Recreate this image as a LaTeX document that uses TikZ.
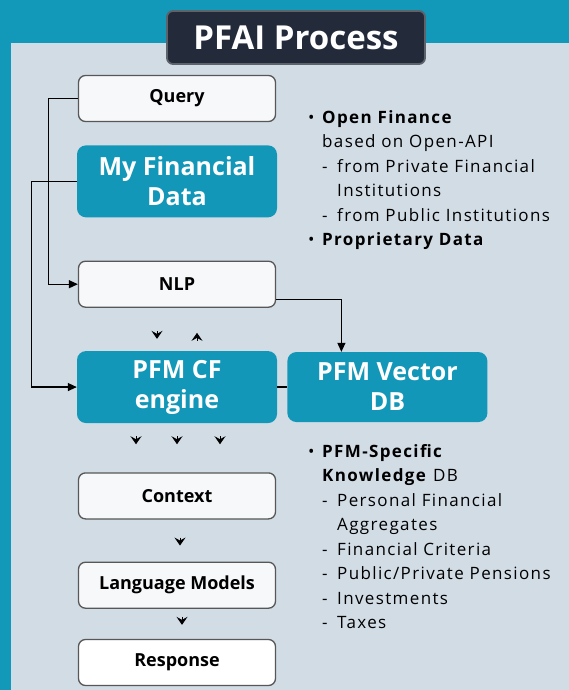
\documentclass[tikz,border=0pt]{standalone}
\usepackage{fontspec}
\setmainfont{Open Sans}
\newfontfamily\widefont{Open Sans}[LetterSpace=8]
\usetikzlibrary{arrows.meta,positioning}

\definecolor{frameteal}{HTML}{1298B9}
\definecolor{panelgray}{HTML}{D2DCE5}
\definecolor{pfmteal}{HTML}{1297B8}
\definecolor{titlenavy}{HTML}{232A3A}
\definecolor{titleedge}{HTML}{5E636B}
\definecolor{boxedge}{HTML}{575757}
\definecolor{boxfill}{HTML}{F7F8FA}

% helpers for the side notes
\newcommand{\bul}[1]{\makebox[14pt][l]{\textbullet}\textbf{#1}}
\newcommand{\plain}[1]{\hspace*{14pt}#1}
\newcommand{\subitm}[1]{\hspace*{14pt}\makebox[15pt][l]{-}#1}
\newcommand{\cont}[1]{\hspace*{29pt}#1}

\begin{document}
\begin{tikzpicture}[x=1pt, y=-1pt,
  node distance=43pt and 10pt,
  stepbox/.style={rectangle, draw=boxedge, line width=1.3pt, rounded corners=7pt,
                  fill=boxfill, minimum width=197pt, minimum height=46pt,
                  font=\fontsize{18}{22}\selectfont\bfseries},
  databox/.style={rectangle, rounded corners=9pt, fill=pfmteal, text=white,
                  minimum width=200pt, minimum height=72pt, align=center,
                  font=\fontsize{25}{30}\selectfont\bfseries},
  titlebox/.style={rectangle, rounded corners=6pt, fill=titlenavy, draw=titleedge,
                   line width=1.8pt, text=white, minimum width=258pt,
                   minimum height=53pt, font=\fontsize{33}{38}\selectfont\bfseries},
  notes/.style={align=left, inner sep=0pt, anchor=north west,
                font=\widefont\fontsize{17}{24.5}\selectfont},
  flow/.style={-{Triangle[length=9pt,width=8pt]}, line width=1.2pt},
  hop/.style 2 args={-{Stealth[length=8pt,width=11pt,inset=3pt]}, line width=1pt,
                     shorten <=#1, shorten >=#2},
]
\useasboundingbox (0,0) rectangle (569,690);

% frame and panel
\fill[frameteal] (0,0) rectangle (569,690);
\fill[panelgray] (11,43) rectangle (569,690);
\node[titlebox] (title) at (296,37.5) {PFAI Process};

% left column
\node[stepbox] (query) at (177,98.5) {Query};
\node[databox, below=23pt of query] (mydata) {My Financial\\Data};
\node[stepbox, below=of mydata] (nlp) {NLP};
\node[databox, below=of nlp] (cfeng) {PFM CF\\engine};
\node[databox, right=of cfeng, minimum height=70pt] (vecdb) {PFM Vector\\DB};
\node[stepbox, below=49pt of cfeng] (context) {Context};
\node[stepbox, below=42pt of context] (llm) {Language Models};
\node[stepbox, below=30pt of llm, fill=white] (resp) {Response};

% side notes
\node[notes] (openfin) at (308,110) {%
  \bul{Open Finance}\\
  \plain{based on Open-API}\\
  \subitm{from Private Financial}\\
  \cont{Institutions}\\
  \subitm{from Public Institutions}\\
  \bul{Proprietary Data}};
\node[notes] (knowdb) at (308,444) {%
  \bul{PFM-Specific}\\
  \hspace*{14pt}\textbf{Knowledge} DB\\
  \subitm{Personal Financial}\\
  \cont{Aggregates}\\
  \subitm{Financial Criteria}\\
  \subitm{Public/Private Pensions}\\
  \subitm{Investments}\\
  \subitm{Taxes}};

% connectors
\draw[flow] (query.west) -- ++(-29,0) |- (nlp.west);
\draw[flow] (mydata.west) -- ++(-45,0) |- (cfeng.west);
\draw[flow] ([yshift=-15pt]nlp.east) -| ([xshift=-46pt]vecdb.north);
\draw[line width=1.2pt] (cfeng.east) -- (vecdb.west);

% small flow marks between the stages
\draw[hop={23pt}{12pt}] ([xshift=-20pt]nlp.south) -- ([xshift=-20pt]cfeng.north);
\draw[hop={10pt}{25pt}] ([xshift=20pt]cfeng.north) -- ([xshift=20pt]nlp.south);
\foreach \dx in {-41,0,43}
  \draw[hop={13pt}{28pt}] ([xshift=\dx pt]cfeng.south) -- ([xshift=\dx pt]context.north);
\draw[hop={18pt}{16pt}] ([xshift=3pt]context.south) -- ([xshift=3pt]llm.north);
\draw[hop={8pt}{14pt}] ([xshift=5pt]llm.south) -- ([xshift=5pt]resp.north);
\end{tikzpicture}
\end{document}
